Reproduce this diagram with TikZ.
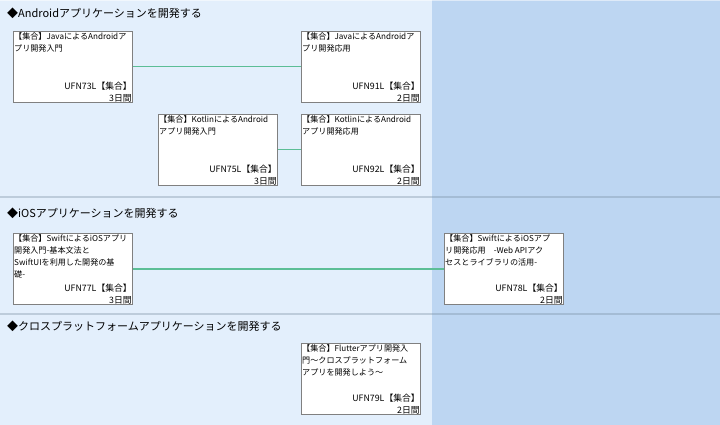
\documentclass[tikz,border=0pt]{standalone}
\usepackage{fontspec}
\setmainfont{Noto Sans CJK JP}
\newfontfamily\cjk{Noto Sans CJK JP}
\definecolor{bgleft}{RGB}{227,239,252}
\definecolor{bgright}{RGB}{189,214,242}
\definecolor{divline}{RGB}{120,140,160}
\definecolor{conn}{RGB}{92,190,150}
\definecolor{boxline}{RGB}{128,128,128}
\tikzset{
  cbox/.style={draw=boxline, line width=0.9pt, fill=white, minimum width=119pt, minimum height=71pt, anchor=north west, inner sep=0pt},
  ctitle/.style={anchor=north west, inner sep=0pt, align=left, font=\cjk\fontsize{8.1}{12}\selectfont},
  ccode/.style={anchor=south east, inner sep=0pt, align=right, font=\cjk\fontsize{8.8}{12}\selectfont},
  heading/.style={anchor=west, inner sep=0pt, font=\cjk\fontsize{11}{12}\selectfont},
  connector/.style={draw=conn, line width=1.1pt},
  divider/.style={draw=divline, draw opacity=0.35, line width=1.6pt}
}
\newcommand{\coursebox}[6]{%
  \node[cbox] (#1) at (#2,#3) {};
  \node[ctitle] (#1t) at ([shift={(1,1.8)}]#1.north west) {#4};
  \node[ccode] (#1c) at ([shift={(-1,-0.8)}]#1.south east) {#5\\#6};
}
\begin{document}
\begin{tikzpicture}[x=1pt,y=-1pt]
\useasboundingbox (0,0) rectangle (720,425);
% backgrounds
\fill[bgleft] (0,0) rectangle (432,425);
\fill[bgright] (432,0) rectangle (720,425);
\draw[white, draw opacity=0.5, line width=1pt] (0,0.5) -- (720,0.5);
\draw[divider] (0,197) -- (720,197);
\draw[divider] (0,314) -- (720,314);
% headings
\node[heading] (h1) at (7,13) {◆Androidアプリケーションを開発する};
\node[heading] (h2) at (7,213) {◆iOSアプリケーションを開発する};
\node[heading] (h3) at (7,326) {◆クロスプラットフォームアプリケーションを開発する};
% boxes
\coursebox{a1}{13}{31}{【集合】JavaによるAndroidア\\プリ開発入門}{UFN73L【集合】}{3日間}
\coursebox{a2}{301}{31}{【集合】JavaによるAndroidア\\プリ開発応用}{UFN91L【集合】}{2日間}
\coursebox{a3}{158}{114}{【集合】KotlinによるAndroid\\アプリ開発入門}{UFN75L【集合】}{3日間}
\coursebox{a4}{301}{114}{【集合】KotlinによるAndroid\\アプリ開発応用}{UFN92L【集合】}{2日間}
\coursebox{i1}{13}{233}{【集合】SwiftによるiOSアプリ\\開発入門-基本文法と\\SwiftUIを利用した開発の基\\礎-}{UFN77L【集合】}{3日間}
\coursebox{i2}{444}{233}{【集合】SwiftによるiOSアプ\\リ開発応用　-Web APIアク\\セスとライブラリの活用-}{UFN78L【集合】}{2日間}
\coursebox{f1}{301}{343}{【集合】Flutterアプリ開発入\\門～クロスプラットフォーム\\アプリを開発しよう～}{UFN79L【集合】}{2日間}
% connectors
\draw[connector] (a1.east) -- (a2.west);
\draw[connector] (a3.east) -- (a4.west);
\draw[connector] (i1.east) -- (i2.west);
\end{tikzpicture}
\end{document}
